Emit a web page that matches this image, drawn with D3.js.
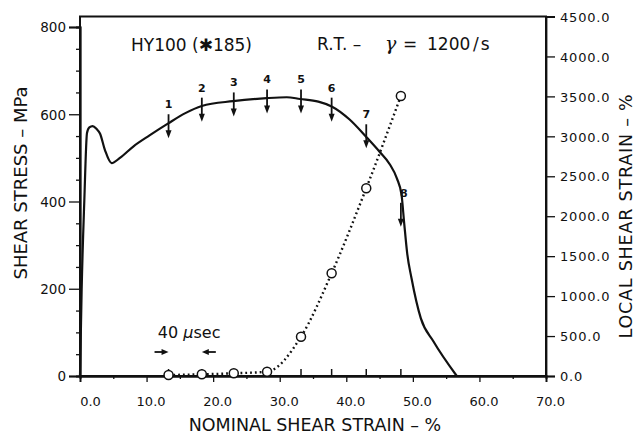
<!DOCTYPE html>
<html><head><meta charset="utf-8">
<script src="https://cdn.jsdelivr.net/npm/d3@7"></script>
<style>
html,body{margin:0;padding:0;background:#fff;}
text{font-family:"DejaVu Sans",sans-serif;fill:#111;}
</style></head>
<body><svg id="c" width="638" height="435"></svg>
<script>
// ---- data ----
const stressStrain = [0,0.25,0.65,1.05,1.4,1.9,2.5,3.0,3.75,4.75,6.0,8.0,10.5,13.25,15.75,18.3,23.0,28.05,31.05,33.05,35.8,37.8,40.5,43.0,45.0,46.5,47.6,48.3,48.7,49.15,49.8,51.2,53.1,56.6];
const stressMPa    = [0,199,403,557,570,573,566,556,518,488,500,526,552,579,602,619,630,637,639,635,629,618,588,548,514,486,453,415,350,281,224,132,79,0];
const markerStrain = [13.3,18.3,23.1,28.1,33.2,37.8,43.0,48.2];
const markerLabels = ["1","2","3","4","5","6","7","8"];
const arrowTipMPa  = [545,583,595,602,602,583,522,342];
const localStrain  = [12,21,34,54,492,1286,2350,3505];
const xTicks = [0,10,20,30,40,50,60,70];
const yLeftTicks = [0,200,400,600,800];
const yRightTicks = [0,500,1000,1500,2000,2500,3000,3500,4000,4500];

const svg = d3.select("#c");
const x = d3.scaleLinear().domain([0,70]).range([80,546]);
const yL = d3.scaleLinear().domain([0,800]).range([376,27]);
const yR = d3.scaleLinear().domain([0,4500]).range([376,16.5]);

// frame
svg.append("path")
  .attr("d",`M${x(0)},${yR(4500)}H${x(70)}V${yL(0)}H${x(0)}Z`)
  .attr("fill","none").attr("stroke","#111").attr("stroke-width",2);

// left axis
const gL = svg.append("g").attr("transform",`translate(${x(0)},0)`)
  .call(d3.axisLeft(yL).tickValues(yLeftTicks).tickFormat(d3.format("d")).tickSize(11).tickPadding(3));
const gLm = svg.append("g").attr("transform",`translate(${x(0)},0)`)
  .call(d3.axisLeft(yL).tickValues(d3.range(50,800,50).filter(v=>v%200)).tickFormat("").tickSize(4));
// bottom axis
const gB = svg.append("g").attr("transform",`translate(0,${yL(0)})`)
  .call(d3.axisBottom(x).tickValues(xTicks).tickFormat(d3.format(".1f")).tickSize(6).tickPadding(15));
const gBm = svg.append("g").attr("transform",`translate(0,${yL(0)})`)
  .call(d3.axisBottom(x).tickValues(d3.range(5,70,10)).tickFormat("").tickSize(3));
// right axis
const gR = svg.append("g").attr("transform",`translate(${x(70)},0)`)
  .call(d3.axisRight(yR).tickValues(yRightTicks).tickFormat(d3.format(".1f")).tickSize(9).tickPadding(5));

[gL,gLm,gB,gBm,gR].forEach(g=>{
  g.select(".domain").attr("stroke","#111").attr("stroke-width",1.8);
  g.selectAll(".tick line").attr("stroke","#111").attr("stroke-width",1.3);
});
gL.selectAll(".tick text").style("font-size","13.5px").attr("dy","0.36em");
gB.selectAll(".tick text").style("font-size","13px").attr("dx",4);
gB.selectAll(".tick text").filter(d=>d===0).attr("dx",10);
gR.selectAll(".tick text").style("font-size","13px").style("letter-spacing","0.8px").attr("dy","0.36em");

// marker ticks on x axis
svg.append("g").selectAll("line").data(markerStrain).join("line")
  .attr("x1",d=>x(d)).attr("x2",d=>x(d)).attr("y1",yL(0)).attr("y2",yL(0)-7)
  .attr("stroke","#111").attr("stroke-width",1.5);

// stress curve
const line = d3.line().x(d=>x(d[0])).y(d=>yL(d[1])).curve(d3.curveMonotoneX);
svg.append("path").datum(stressStrain.map((s,i)=>[s,stressMPa[i]]))
  .attr("d",line).attr("fill","none").attr("stroke","#111").attr("stroke-width",2.2);

// local strain dotted
const line2 = d3.line().x(d=>x(d[0])).y(d=>yR(d[1])).curve(d3.curveMonotoneX);
const pts = markerStrain.map((s,i)=>[s,localStrain[i]]);
svg.append("path").datum(pts).attr("d",line2).attr("fill","none")
  .attr("stroke","#111").attr("stroke-width",2.4).attr("stroke-dasharray","1.8,3");
svg.append("g").selectAll("circle").data(pts).join("circle")
  .attr("cx",d=>x(d[0])).attr("cy",d=>yR(d[1])).attr("r",4.5)
  .attr("fill","#fff").attr("stroke","#111").attr("stroke-width",1.5);

// numbered arrows
const ag = svg.append("g");
markerStrain.forEach((s,i)=>{
  const px = x(s), tip = yL(arrowTipMPa[i]);
  ag.append("line").attr("x1",px).attr("x2",px).attr("y1",tip-24).attr("y2",tip-5)
    .attr("stroke","#111").attr("stroke-width",1.8);
  ag.append("path").attr("d",`M${px-3},${tip-8}L${px+3},${tip-8}L${px},${tip}Z`).attr("fill","#111");
  ag.append("text").attr("x",px+(i===7?3:0)).attr("y",tip-30).attr("text-anchor","middle")
    .style("font-size","11px").style("font-weight","bold").text(markerLabels[i]);
});

// 40 usec annotation
const ay = yL(0)-24;
const a1 = x(markerStrain[0]), a2 = x(markerStrain[1]);
svg.append("line").attr("x1",a1-14).attr("x2",a1-5).attr("y1",ay).attr("y2",ay).attr("stroke","#111").attr("stroke-width",1.8);
svg.append("path").attr("d",`M${a1-7},${ay-3}L${a1-7},${ay+3}L${a1},${ay}Z`).attr("fill","#111");
svg.append("line").attr("x1",a2+5).attr("x2",a2+14).attr("y1",ay).attr("y2",ay).attr("stroke","#111").attr("stroke-width",1.8);
svg.append("path").attr("d",`M${a2+7},${ay-3}L${a2+7},${ay+3}L${a2},${ay}Z`).attr("fill","#111");
const t40 = svg.append("text").attr("x",(a1+a2)/2+4).attr("y",ay-14).attr("text-anchor","middle").style("font-size","16px");
t40.append("tspan").text("40 ");
t40.append("tspan").style("font-style","italic").text("µ");
t40.append("tspan").text("sec");

// titles
svg.append("text").attr("x",131).attr("y",51).style("font-size","17px").text("HY100 (✱185)");
svg.append("text").attr("x",317).attr("y",50).style("font-size","17px").text("R.T. –");
svg.append("text").attr("x",385).attr("y",50).style("font-size","19px").style("font-style","italic")
  .style("font-family","'DejaVu Serif',serif").text("γ");
svg.append("text").attr("x",403).attr("y",50).style("font-size","17px").text("=");
svg.append("text").attr("x",427).attr("y",50).style("font-size","17px").text("1200");
svg.append("text").attr("x",473).attr("y",50).style("font-size","17px").style("letter-spacing","2px").text("/s");

// axis titles
svg.append("text").attr("transform","translate(27,183) rotate(-90)").attr("text-anchor","middle")
  .style("font-size","18px").text("SHEAR STRESS – MPa");
svg.append("text").attr("transform","translate(632,216) rotate(-90)").attr("text-anchor","middle")
  .style("font-size","17.5px").style("letter-spacing","0.8px").text("LOCAL SHEAR STRAIN – %");
svg.append("text").attr("x",315).attr("y",431).attr("text-anchor","middle")
  .style("font-size","17.5px").text("NOMINAL SHEAR STRAIN – %");
</script></body></html>
